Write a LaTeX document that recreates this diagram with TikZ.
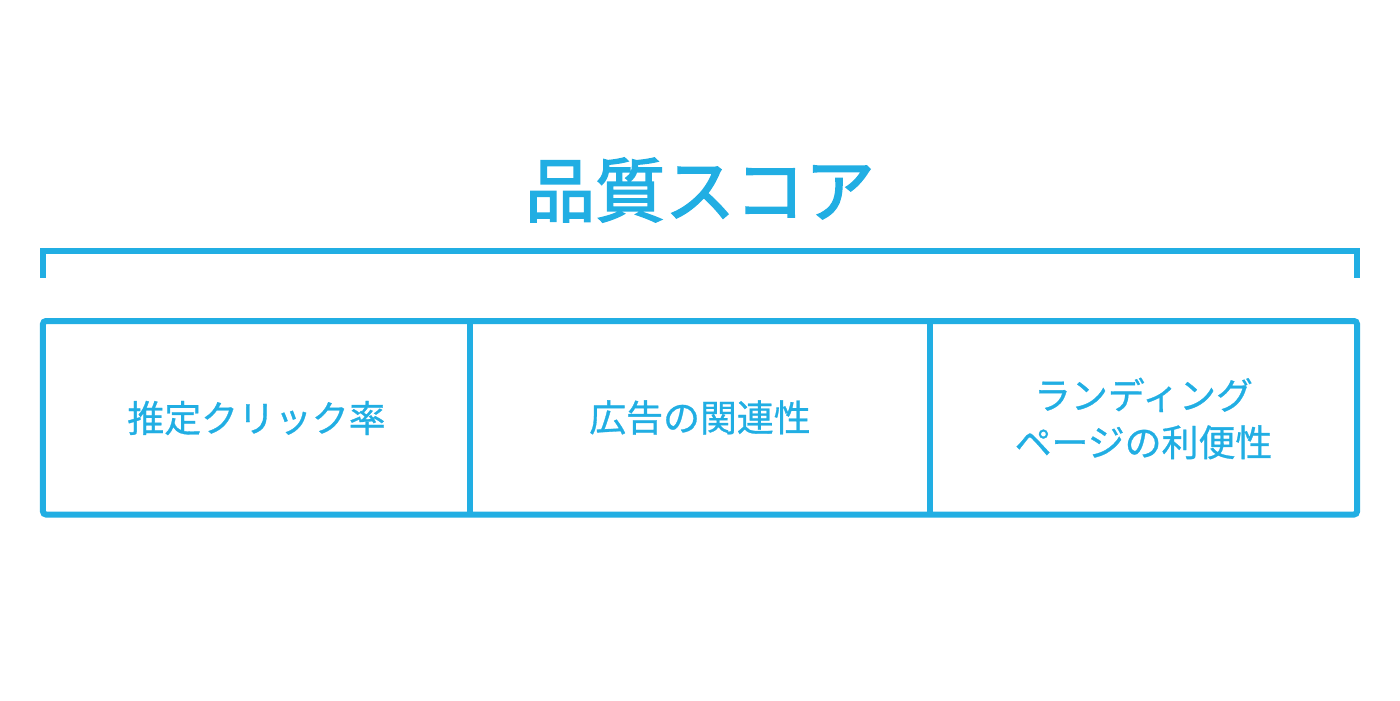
\documentclass[tikz,border=0pt]{standalone}
\usepackage{fontspec}
\setmainfont{Noto Sans CJK JP}[FakeBold=0.8]
\newfontfamily\cjkbold{Noto Sans CJK JP}[FakeBold=2.2]
\usetikzlibrary{positioning}
\definecolor{qsblue}{HTML}{21AEE3}
\tikzset{
  frameline/.style={draw=qsblue,line width=0.06cm},
  celltext/.style={text=qsblue,align=center,font={\fontsize{10.5}{13.4}\selectfont}},
  titletext/.style={text=qsblue,font={\cjkbold\fontsize{19.9}{22}\selectfont}}
}
\begin{document}
\begin{tikzpicture}
\useasboundingbox (0,0) rectangle (14,7);
% title
\node[titletext] (title) at (7,5.10) {品質スコア};
% bracket
\coordinate (bl) at (0.43,4.22);
\coordinate (br) at (13.57,4.22);
\draw[frameline] (bl) -- (0.43,4.495) -- (13.57,4.495) -- (br);
% table
\draw[frameline,rounded corners=0.03cm] (0.43,1.855) rectangle (13.57,3.79);
\draw[frameline] (4.70,1.855) -- (4.70,3.79)
                 (9.30,1.855) -- (9.30,3.79);
% cells
\node[celltext] (ctr) at (2.565,2.82) {推定クリック率};
\node[celltext] (rel) at (7.00,2.825) {広告の関連性};
\node[celltext] (lp) at (11.435,2.815) {ランディング\\ページの利便性};
\end{tikzpicture}
\end{document}
